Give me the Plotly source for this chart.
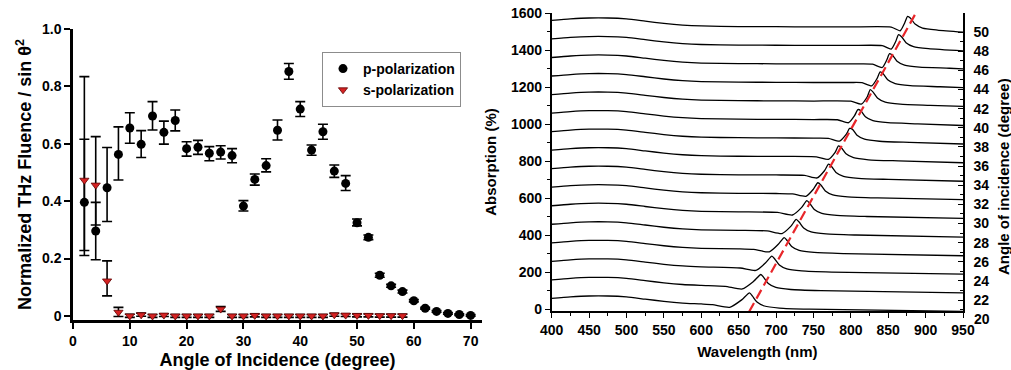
import plotly.graph_objects as go

# ---------------- Left panel data ----------------
P_ANGLE = list(range(2, 72, 2))
P_VAL = [0.396, 0.296, 0.447, 0.563, 0.655, 0.598, 0.697, 0.640, 0.681, 0.583,
         0.588, 0.567, 0.571, 0.559, 0.383, 0.476, 0.524, 0.647, 0.852, 0.721,
         0.578, 0.642, 0.505, 0.462, 0.325, 0.274, 0.142, 0.105, 0.085, 0.053,
         0.027, 0.016, 0.009, 0.005, 0.002]
P_ERR_PLUS = [0.220, 0.100, 0.140, 0.096, 0.053, 0.048, 0.050, 0.039, 0.037, 0.024,
              0.024, 0.023, 0.022, 0.024, 0.019, 0.019, 0.024, 0.036, 0.028, 0.026,
              0.018, 0.026, 0.021, 0.027, 0.013, 0.008, 0.007, 0.005, 0.005, 0.004,
              0.003, 0.003, 0.003, 0.003, 0.003]
P_ERR_MINUS = [0.168, 0.100, 0.118, 0.089, 0.053, 0.046, 0.049, 0.041, 0.036, 0.026,
               0.025, 0.026, 0.024, 0.025, 0.017, 0.020, 0.022, 0.034, 0.027, 0.026,
               0.018, 0.026, 0.022, 0.025, 0.011, 0.008, 0.007, 0.005, 0.005, 0.004,
               0.003, 0.003, 0.003, 0.003, 0.003]

S_ANGLE = list(range(2, 60, 2))
S_VAL = [0.473, 0.456, 0.122, 0.013, 0.0, 0.004, 0.0, 0.003, 0.0, 0.0,
         0.0, 0.0, 0.024, 0.0, 0.0, 0.002, 0.0, 0.0, 0.0, 0.0,
         0.0, 0.0, 0.004, 0.003, 0.002, 0.002, 0.001, 0.001, 0.001]
S_ERR_PLUS = [0.361, 0.169, 0.070, 0.017, 0.006, 0.006, 0.005, 0.005, 0.005, 0.005,
              0.005, 0.005, 0.009, 0.005, 0.005, 0.005, 0.005, 0.005, 0.005, 0.005,
              0.005, 0.005, 0.005, 0.005, 0.005, 0.005, 0.005, 0.005, 0.005]
S_ERR_MINUS = [0.262, 0.139, 0.052, 0.015, 0.005, 0.005, 0.005, 0.005, 0.005, 0.005,
               0.005, 0.005, 0.008, 0.005, 0.005, 0.005, 0.005, 0.005, 0.005, 0.005,
               0.005, 0.005, 0.005, 0.005, 0.005, 0.005, 0.005, 0.005, 0.005]

# ---------------- Right panel data ----------------
ANGLE_TICKS = list(range(20, 52, 2))          # one spectrum per angle
OFFSETS = [0, 100, 200, 300, 400, 500, 600, 700, 800, 900, 1000, 1100, 1200, 1300, 1400, 1500]
PEAK_WL = [664.5, 679.7, 694.4, 710.9, 726.9, 741.2, 755.9, 770.2, 783.6, 798.3,
           809.5, 826.0, 839.3, 851.8, 863.8, 875.9]
PEAK_REL = [90, 89, 88, 88, 86, 88, 84, 84, 83, 77, 79, 86, 82, 81, 83, 82]
DIP_WL = [638, 655, 673, 691, 708, 722, 740, 755, 770, 785, 797, 814, 828, 842, 854, 866]
DIP_REL = [12, 11, 11, 11, 10, 10, 11, 10, 10, 9, 8, 8, 7, 6, 5, 4]
PRE_DIP_WL = [615, 632, 652, 670, 688, 702, 722, 738, 754, 770, 782, 800, 815, 829, 842, 854]
PRE_DIP_REL = [26, 25, 24, 24, 24, 24, 24, 24, 24, 24, 24, 24, 24, 24, 24, 24]
RISE_WL = [654, 670, 686, 703, 720, 734, 750, 765, 779, 794, 805, 822, 835, 848, 860, 872]
RISE_REL = [52, 52, 52, 52, 50, 50, 50, 50, 48, 46, 46, 48, 46, 46, 46, 46]
END_REL = [-10, -10, -9, -10, -9, -8, -7, -8, -8, -7, -7, -4, -3, -2, -4, -3]
BASE_WL = [400, 425, 450, 475, 500, 525, 550, 575, 600, 650, 700, 750, 800, 850]
BASE_REL = [60, 68, 73, 73, 68, 56, 44, 35, 30, 27, 26, 25, 25, 24]
TAIL_DX = [4, 10, 20, 40, 80]
TAIL_REL = [72, 40, 19, 8, 2]
DASH_WL = [664, 887]
DASH_ABS = [-12, 1600]

FONT = "Arial, 'Liberation Sans', sans-serif"
RED = "#e8262a"

fig = go.Figure()

fig.add_trace(go.Scatter(
    x=P_ANGLE, y=P_VAL, mode="markers", name="p-polarization",
    marker=dict(symbol="circle", size=9, color="black"),
    error_y=dict(type="data", symmetric=False, array=P_ERR_PLUS, arrayminus=P_ERR_MINUS,
                 color="black", thickness=1.6, width=5),
    xaxis="x", yaxis="y"))
fig.add_trace(go.Scatter(
    x=S_ANGLE, y=S_VAL, mode="markers", name="s-polarization",
    marker=dict(symbol="triangle-down", size=8, color="#d42222",
                line=dict(color="#600000", width=0.8)),
    error_y=dict(type="data", symmetric=False, array=S_ERR_PLUS, arrayminus=S_ERR_MINUS,
                 color="black", thickness=1.6, width=5),
    xaxis="x", yaxis="y"))

for k in range(len(PEAK_WL)):
    pk = PEAK_WL[k]
    off = OFFSETS[k]
    xs, ys = [], []
    for w, v in zip(BASE_WL, BASE_REL):
        if w < PRE_DIP_WL[k] - 10:
            xs.append(w)
            ys.append(off + v)
    xs += [PRE_DIP_WL[k], DIP_WL[k], RISE_WL[k], pk]
    ys += [off + PRE_DIP_REL[k], off + DIP_REL[k], off + RISE_REL[k], off + PEAK_REL[k]]
    for dx, v in zip(TAIL_DX, TAIL_REL):
        if pk + dx < 940:
            xs.append(pk + dx)
            ys.append(off + v)
    xs.append(950)
    ys.append(off + END_REL[k])
    fig.add_trace(go.Scatter(x=xs, y=ys, mode="lines", showlegend=False,
                             line=dict(color="black", width=1.3, shape="spline", smoothing=0.6),
                             xaxis="x2", yaxis="y2", hoverinfo="skip"))

fig.add_trace(go.Scatter(x=DASH_WL, y=DASH_ABS, mode="lines", showlegend=False,
                         line=dict(color=RED, width=2.2, dash="10px,5px"),
                         xaxis="x2", yaxis="y2"))

L, R, T, B = 73, 48, 13, 50
W, H = 1011, 370
IW, IH = W - L - R, H - T - B

def px_x(p):
    return (p - L) / IW

def px_y(p):
    return (H - B - p) / IH

tickfont_l = dict(family=FONT, size=14, color="black", weight="bold")
tickfont_r = dict(family=FONT, size=14, color="black", weight="bold")

fig.update_layout(
    width=W, height=H, margin=dict(l=L, r=R, t=T, b=B, autoexpand=False),
    paper_bgcolor="white", plot_bgcolor="white",
    font=dict(family=FONT, color="black"),
    showlegend=True,
    legend=dict(x=px_x(322), y=px_y(52), xanchor="left", yanchor="top",
                bgcolor="white", bordercolor="#8c8c8c", borderwidth=1,
                font=dict(family=FONT, size=14, color="black", weight="bold")),
    xaxis=dict(domain=[0, px_x(482)], range=[0, 72], tickvals=[0, 10, 20, 30, 40, 50, 60, 70],
               showline=True, linecolor="black", linewidth=2.5, ticks="outside", ticklen=6,
               tickwidth=2, tickcolor="black", showgrid=False, zeroline=False,
               tickfont=tickfont_l, anchor="y",
               title=dict(text="<b>Angle of Incidence (degree)</b>",
                          font=dict(family=FONT, size=18, color="black"), standoff=6)),
    yaxis=dict(domain=[0, px_y(29)], range=[-0.014, 1.0],
               tickvals=[0, 0.2, 0.4, 0.6, 0.8, 1.0], ticktext=["0", "0.2", "0.4", "0.6", "0.8", "1.0"],
               showline=True, linecolor="black", linewidth=2.5, ticks="outside", ticklen=6,
               tickwidth=2, tickcolor="black", showgrid=False, zeroline=False,
               tickfont=tickfont_l, anchor="x",
               title=dict(text="<b>Normalized THz Fluence / sin θ<sup>2</sup></b>",
                          font=dict(family=FONT, size=18, color="black"), standoff=6)),
    xaxis2=dict(domain=[px_x(551.7), 1.0], range=[400, 950], dtick=50, tick0=400,
                showline=True, linecolor="black", linewidth=1.5, ticks="outside", ticklen=5,
                tickwidth=1.3, tickcolor="black", showgrid=False, zeroline=False,
                minor=dict(dtick=25, ticks="outside", ticklen=3, tickcolor="black", tickwidth=1.2),
                tickfont=tickfont_r, anchor="y2",
                title=dict(text="<b>Wavelength (nm)</b>",
                           font=dict(family=FONT, size=15, color="black"), standoff=10)),
    yaxis2=dict(domain=[px_y(311), 1.0], range=[-8, 1600], dtick=200, tick0=0,
                showline=True, linecolor="black", linewidth=1.5, ticks="outside", ticklen=5,
                tickwidth=1.3, tickcolor="black", showgrid=False, zeroline=False,
                minor=dict(dtick=100, ticks="outside", ticklen=3, tickcolor="black", tickwidth=1.2),
                tickfont=tickfont_r, anchor="x2",
                title=dict(text="<b>Absorption (%)</b>",
                           font=dict(family=FONT, size=15, color="black"), standoff=11)),
    yaxis3=dict(overlaying="y2", side="right", anchor="x2", range=[20.85, 52],
                tickvals=ANGLE_TICKS[1:], showline=True, linecolor="black", linewidth=1.5,
                ticks="inside", ticklen=5, tickwidth=1.3, tickcolor="black",
                ticklabelstandoff=6,
                minor=dict(tickvals=[a + 1 for a in ANGLE_TICKS[:-1]], ticks="inside",
                           ticklen=3, tickcolor="black", tickwidth=1.2),
                showgrid=False, zeroline=False, tickfont=tickfont_r),
)

# invisible helper so the right-hand angle axis is instantiated
fig.add_trace(go.Scatter(x=[None], y=[None], xaxis="x2", yaxis="y3", showlegend=False,
                         hoverinfo="skip"))

fig.add_annotation(text="<b>%d</b>" % ANGLE_TICKS[0], xref="paper", yref="paper",
                   x=px_x(972), y=px_y(319), xanchor="left", yanchor="middle", showarrow=False,
                   font=dict(family=FONT, size=14, color="black"))
fig.add_annotation(text="<b>Angle of incidence (degree)</b>", xref="paper", yref="paper",
                   x=px_x(1003), y=px_y(177), xanchor="center", yanchor="middle",
                   textangle=-90, showarrow=False,
                   font=dict(family=FONT, size=15, color="black"))

fig.write_html("out.html")
